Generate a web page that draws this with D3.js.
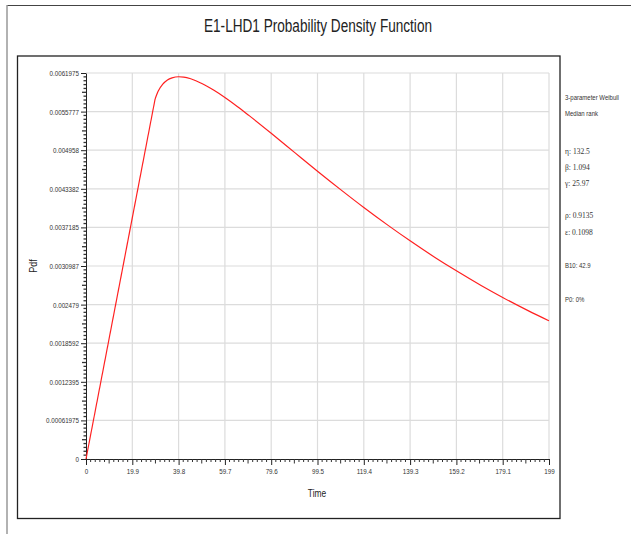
<!DOCTYPE html>
<html>
<head>
<meta charset="utf-8">
<script src="https://cdn.jsdelivr.net/npm/d3@7"></script>
<style>
  html, body { margin: 0; padding: 0; background: #fff; }
  svg { display: block; }
</style>
</head>
<body>
<svg id="chart" width="631" height="534"></svg>
<script>
// Weibull fit: probability density over time
const title = "E1-LHD1 Probability Density Function";
const xLabel = "Time";
const yLabel = "Pdf";

const xTickValues = [0, 19.9, 39.8, 59.7, 79.6, 99.5, 119.4, 139.3, 159.2, 179.1, 199];
const xTickLabels = ["0", "19.9", "39.8", "59.7", "79.6", "99.5", "119.4", "139.3", "159.2", "179.1", "199"];
const yTickLabels = ["0", "0.00061975", "0.0012395", "0.0018592", "0.002479", "0.0030987",
                     "0.0037185", "0.0043382", "0.004958", "0.0055777", "0.0061975"];
const yTickValues = yTickLabels.map(Number);

// Curve samples (time, pdf)
const pdfTime = [0, 29.7, 31, 33, 35, 37, 39.8, 42, 45, 50, 55, 59.7, 65, 70, 79.6, 90,
                 99.5, 110, 119.4, 130, 139.3, 150, 159.2, 170, 179.1, 190, 199];
const pdfValue = [0, 0.00578, 0.005904, 0.006018, 0.006085, 0.006119, 0.006137, 0.006132,
                  0.006105, 0.006026, 0.00592, 0.005805, 0.005661, 0.005517, 0.00523, 0.004911,
                  0.004621, 0.004309, 0.004038, 0.003747, 0.003503, 0.003236, 0.003021,
                  0.002782, 0.002594, 0.002382, 0.002219];

// Fit summary shown at the right
const infoLines = [
  { text: "3-parameter Weibull", serif: false, y: 97 },
  { text: "Median rank", serif: false, y: 113 },
  { text: "η: 132.5", serif: true, y: 151 },
  { text: "β: 1.094", serif: true, y: 167 },
  { text: "γ: 25.97", serif: true, y: 183 },
  { text: "ρ: 0.9135", serif: true, y: 215 },
  { text: "ε: 0.1098", serif: true, y: 232 },
  { text: "B10: 42.9", serif: false, y: 265 },
  { text: "P0: 0%", serif: false, y: 299 }
];

const NARROW = "'Liberation Sans Narrow','Arial Narrow','Liberation Sans',Arial,sans-serif";
const SERIF = "'Liberation Serif','Times New Roman',serif";

// Condense sans text horizontally (narrow face look)
function condense(sel, factor) {
  sel.each(function () {
    const w = this.getComputedTextLength();
    d3.select(this).attr("textLength", w * factor).attr("lengthAdjust", "spacingAndGlyphs");
  });
}

const svg = d3.select("#chart");

// Outer frame (top and left edges)
svg.append("line").attr("x1", 7).attr("x2", 631).attr("y1", 5.5).attr("y2", 5.5)
  .attr("stroke", "#444").attr("stroke-width", 1.2);
svg.append("line").attr("x1", 7).attr("x2", 7).attr("y1", 5).attr("y2", 534)
  .attr("stroke", "#999").attr("stroke-width", 1.5);

// Inner chart box
svg.append("rect").attr("x", 17.5).attr("y", 56).attr("width", 542.5).attr("height", 462.5)
  .attr("fill", "none").attr("stroke", "#222").attr("stroke-width", 1.3);

// Title
svg.append("text")
  .attr("x", 318).attr("y", 32)
  .attr("text-anchor", "middle")
  .attr("font-family", NARROW).attr("font-size", 17.5)
  .attr("fill", "#222")
  .attr("textLength", 228).attr("lengthAdjust", "spacingAndGlyphs")
  .text(title);

const x = d3.scaleLinear().domain([0, 199]).range([86, 549]);
const y = d3.scaleLinear().domain([0, 0.0061975]).range([459, 73]);

// Minor tick positions: ten subdivisions between majors
function minorTicks(vals) {
  const out = [];
  for (let i = 0; i < vals.length - 1; i++) {
    const step = (vals[i + 1] - vals[i]) / 10;
    for (let k = 1; k < 10; k++) out.push({ v: vals[i] + k * step, mid: k === 5 });
  }
  return out;
}

// Grid
const grid = svg.append("g").attr("stroke", "#dcdcdc").attr("stroke-width", 1.2);
grid.selectAll("line.v").data(xTickValues.slice(1)).join("line")
  .attr("x1", d => x(d)).attr("x2", d => x(d))
  .attr("y1", y.range()[1]).attr("y2", y.range()[0]);
grid.selectAll("line.h").data(yTickValues.slice(1)).join("line")
  .attr("x1", x.range()[0]).attr("x2", x.range()[1])
  .attr("y1", d => y(d)).attr("y2", d => y(d));

// X axis
const xAxis = svg.append("g").attr("transform", "translate(0,459)")
  .call(d3.axisBottom(x).tickValues(xTickValues)
    .tickFormat((d, i) => xTickLabels[i]).tickSize(6).tickPadding(3).tickSizeOuter(0));
xAxis.select(".domain").attr("stroke", "#222");
xAxis.selectAll(".tick line").attr("stroke", "#222");
xAxis.selectAll(".tick text").attr("font-family", NARROW).attr("font-size", 8).attr("fill", "#333")
  .call(condense, 0.78);
svg.append("g").selectAll("line").data(minorTicks(xTickValues)).join("line")
  .attr("x1", d => x(d.v)).attr("x2", d => x(d.v))
  .attr("y1", 459).attr("y2", d => 459 + (d.mid ? 4.5 : 3))
  .attr("stroke", "#333");

// Y axis
const yAxis = svg.append("g").attr("transform", "translate(86,0)")
  .call(d3.axisLeft(y).tickValues(yTickValues)
    .tickFormat((d, i) => yTickLabels[i]).tickSize(5).tickPadding(2).tickSizeOuter(0));
yAxis.select(".domain").attr("stroke", "#222");
yAxis.selectAll(".tick line").attr("stroke", "#222");
yAxis.selectAll(".tick text").attr("font-family", NARROW).attr("font-size", 8).attr("fill", "#333")
  .call(condense, 0.78);
svg.append("g").selectAll("line").data(minorTicks(yTickValues)).join("line")
  .attr("x1", d => 86 - (d.mid ? 4 : 2.5)).attr("x2", 86)
  .attr("y1", d => y(d.v)).attr("y2", d => y(d.v))
  .attr("stroke", "#333").attr("stroke-width", 1.3);

// Axis titles
svg.append("text").attr("x", 317).attr("y", 497).attr("text-anchor", "middle")
  .attr("font-family", NARROW).attr("font-size", 10.5).attr("fill", "#222").text(xLabel)
  .call(condense, 0.8);
svg.append("text").attr("transform", "translate(37,266) rotate(-90)").attr("text-anchor", "middle")
  .attr("font-family", NARROW).attr("font-size", 10.5).attr("fill", "#222").text(yLabel)
  .call(condense, 0.85);

// PDF curve: straight rise to the first positive sample, smooth afterwards
const pts = pdfTime.map((t, i) => [t, pdfValue[i]]);
const lin = d3.line().x(d => x(d[0])).y(d => y(d[1]));
const smooth = d3.line().x(d => x(d[0])).y(d => y(d[1])).curve(d3.curveMonotoneX);
svg.append("path").attr("d", lin(pts.slice(0, 2)))
  .attr("fill", "none").attr("stroke", "#ff2020").attr("stroke-width", 1.2);
svg.append("path").attr("d", smooth(pts.slice(1)))
  .attr("fill", "none").attr("stroke", "#ff2020").attr("stroke-width", 1.2);

// Fit summary
const info = svg.append("g").selectAll("text").data(infoLines).join("text")
  .attr("x", 565).attr("y", d => d.y + 2.5)
  .attr("font-family", d => d.serif ? SERIF : NARROW)
  .attr("font-size", 7.5)
  .attr("fill", "#333")
  .text(d => d.text);
info.filter(d => !d.serif).call(condense, 0.8);
</script>
</body>
</html>
